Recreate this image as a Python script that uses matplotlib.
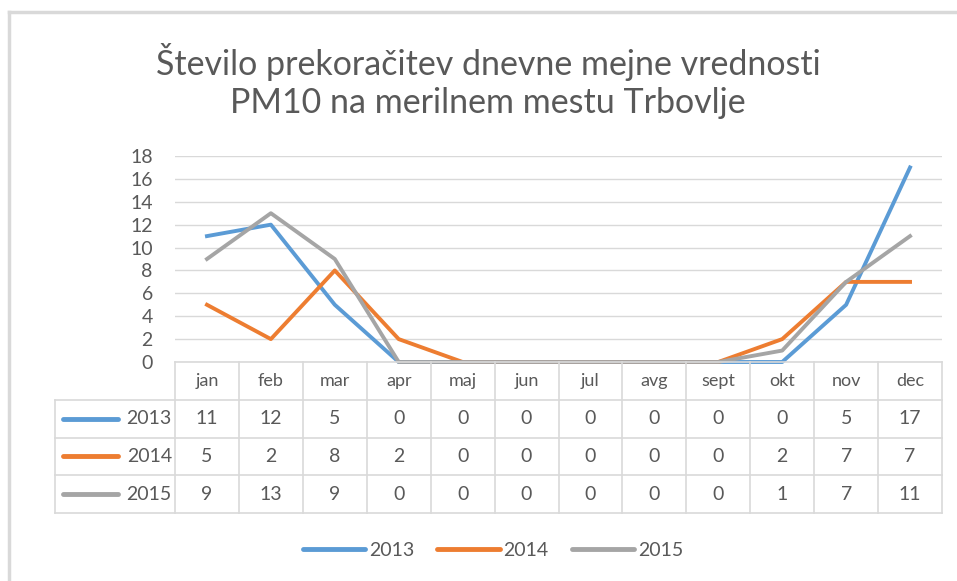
import numpy as np
import matplotlib.pyplot as plt
from matplotlib.lines import Line2D

plt.rcParams['font.family'] = ['Lato', 'DejaVu Sans']

months = ['jan', 'feb', 'mar', 'apr', 'maj', 'jun', 'jul', 'avg',
          'sept', 'okt', 'nov', 'dec']
years = ['2013', '2014', '2015']
v2013 = [11, 12, 5, 0, 0, 0, 0, 0, 0, 0, 5, 17]
v2014 = [5, 2, 8, 2, 0, 0, 0, 0, 0, 2, 7, 7]
v2015 = [9, 13, 9, 0, 0, 0, 0, 0, 0, 1, 7, 11]
series = [v2013, v2014, v2015]
colors = ['#5B9BD5', '#ED7D31', '#A5A5A5']
yticks = [0, 2, 4, 6, 8, 10, 12, 14, 16, 18]

TXT = '#595959'
GRID = '#D9D9D9'

W, H = 957, 581
fig = plt.figure(figsize=(W / 100, H / 100), dpi=100)

# chart area border (light gray, only top and left visible)
fig.add_artist(Line2D([9 / W, 9 / W], [0, 1 - 12 / H], color=GRID, lw=2.5))
fig.add_artist(Line2D([9 / W, 1], [1 - 12 / H, 1 - 12 / H], color=GRID, lw=2.5))

# plot area in pixels
x0, x1 = 175, 942
ytop, ybot = 156, 362
ax = fig.add_axes([x0 / W, 1 - ybot / H, (x1 - x0) / W, (ybot - ytop) / H])
ax.set_xlim(0, 12)
ax.set_ylim(0, 18)
ax.set_yticks(yticks)
ax.set_xticks([])
for s in ax.spines.values():
    s.set_visible(False)
ax.grid(axis='y', color=GRID, lw=1)
ax.set_axisbelow(True)
ax.tick_params(axis='y', length=0, pad=16, labelsize=14, labelcolor=TXT)

xs = np.arange(12) + 0.5
for vals, c, lab in zip(series, colors, years):
    ax.plot(xs, vals, color=c, lw=2.8, label=lab, solid_joinstyle='round',
            clip_on=False)

# data table under the plot
tab_bot = 513
tax = fig.add_axes([x0 / W, 1 - tab_bot / H, (x1 - x0) / W, (tab_bot - ybot) / H])
tax.set_xlim(0, 12)
tax.set_ylim(4, 0)
tax.axis('off')
left = -(x0 - 55) / ((x1 - x0) / 12)
lk = dict(color=GRID, lw=1.2, clip_on=False)
# horizontal lines
tax.plot([0, 12], [0, 0], **lk)
for r in range(1, 5):
    tax.plot([left, 12], [r, r], **lk)
# vertical lines
tax.plot([left, left], [1, 4], **lk)
for c in range(13):
    tax.plot([c, c], [0, 4], **lk)

for i, m in enumerate(months):
    tax.text(i + 0.5, 0.5, m, ha='center', va='center', fontsize=13, color=TXT)
for r, (vals, c, lab) in enumerate(zip(series, colors, years)):
    y = r + 1.5
    tax.plot([left + 0.12, left + 0.98], [y, y], color=c, lw=3.5,
             solid_capstyle='round', clip_on=False)
    tax.text(-0.05, y, lab, ha='right', va='center', fontsize=14, color=TXT)
    for i, v in enumerate(vals):
        tax.text(i + 0.5, y, str(v), ha='center', va='center', fontsize=14,
                 color=TXT)

fig.text(488 / W, 1 - 62 / H, 'Število prekoračitev dnevne mejne vrednosti',
         ha='center', va='center', fontsize=24.5, color=TXT)
fig.text(488 / W, 1 - 103 / H, 'PM10 na merilnem mestu Trbovlje',
         ha='center', va='center', fontsize=24.5, color=TXT)

handles = [Line2D([], [], color=c, lw=3.5, solid_capstyle='round') for c in colors]
fig.legend(handles, years, loc='center', bbox_to_anchor=(493 / W, 1 - 550 / H),
           ncol=3, frameon=False, fontsize=14, labelcolor=TXT,
           handlelength=3.2, handletextpad=0.2, columnspacing=1.2)

fig.savefig('out.png', dpi=100, facecolor='white')
